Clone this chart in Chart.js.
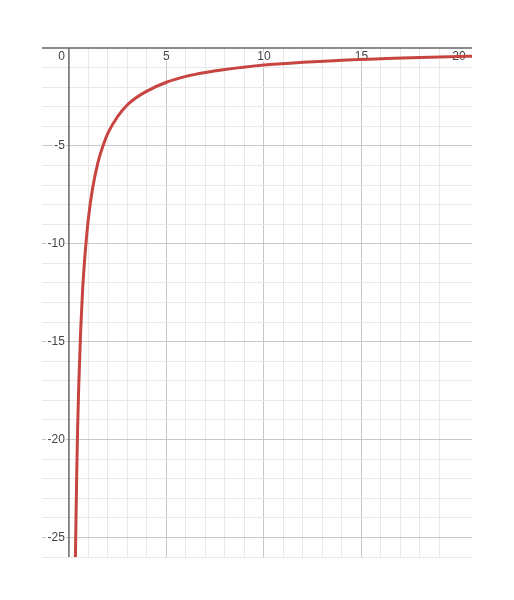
<!DOCTYPE html>
<html>
<head>
<meta charset="utf-8">
<script src="https://cdn.jsdelivr.net/npm/chart.js@4"></script>
<style>
  body { margin: 0; background: #fff; }
  #wrap { width: 514px; height: 600px; }
</style>
</head>
<body>
<div id="wrap"><canvas id="c"></canvas></div>
<script>
// curve points
const xVals = [0.33, 0.35, 0.4, 0.45, 0.5, 0.6, 0.7, 0.8, 0.9, 1, 1.2, 1.5, 1.8, 2, 2.5, 3, 3.5, 4, 5, 6, 7, 8, 10, 12, 14, 16, 18, 20, 20.7];
const yVals = [-26.3, -24.9, -21.8, -19.3, -17.4, -14.5, -12.4, -10.9, -9.7, -8.7, -7.25, -5.8, -4.85, -4.35, -3.5, -2.9, -2.5, -2.2, -1.75, -1.45, -1.25, -1.1, -0.87, -0.73, -0.62, -0.55, -0.48, -0.43, -0.42];
const xLabels = [5, 10, 15, 20];
const yLabels = [-5, -10, -15, -20, -25];

const points = xVals.map((x, i) => ({ x: x, y: yVals[i] }));

function gridColor(ctx) {
  const v = ctx.tick.value;
  if (Math.abs(v) < 1e-9) return 'rgba(0,0,0,0)';
  if (Math.abs(v - Math.round(v)) > 1e-9) return 'rgba(0,0,0,0)';
  if (Math.round(v) % 5 === 0) return '#c8c8c8';
  return '#e8e8e8';
}

// axis lines + numbers, drawn under the curve
const axisLabels = {
  id: 'axisLabels',
  beforeDatasetsDraw(chart) {
    const ctx = chart.ctx, a = chart.chartArea;
    const xs = chart.scales.x, ys = chart.scales.y;
    const x0 = xs.getPixelForValue(0), y0 = ys.getPixelForValue(0);
    ctx.save();
    ctx.strokeStyle = '#666';
    ctx.lineWidth = 1.5;
    ctx.beginPath();
    ctx.moveTo(a.left, y0); ctx.lineTo(a.right, y0);
    ctx.moveTo(x0, a.top); ctx.lineTo(x0, a.bottom);
    ctx.stroke();

    ctx.font = '12px "Liberation Sans", Arial, sans-serif';
    ctx.fillStyle = '#444';
    ctx.strokeStyle = '#fff';
    ctx.lineWidth = 3;
    ctx.textBaseline = 'middle';
    function put(t, x, y) { ctx.strokeText(t, x, y); ctx.fillText(t, x, y); }
    ctx.textAlign = 'center';
    xLabels.forEach(v => put(String(v), xs.getPixelForValue(v), y0 + 9));
    ctx.textAlign = 'right';
    put('0', x0 - 4, y0 + 9);
    yLabels.forEach(v => put(String(v), x0 - 4, ys.getPixelForValue(v)));
    ctx.restore();
  }
};

new Chart(document.getElementById('c'), {
  type: 'line',
  data: {
    datasets: [{
      data: points,
      borderColor: '#c74440',
      borderWidth: 3,
      pointRadius: 0,
      cubicInterpolationMode: 'monotone',
      fill: false
    }]
  },
  options: {
    responsive: true,
    maintainAspectRatio: false,
    animation: false,
    layout: { padding: { left: 42, right: 42, top: 48, bottom: 43 } },
    plugins: { legend: { display: false }, tooltip: { enabled: false } },
    scales: {
      x: {
        type: 'linear',
        min: -1.38,
        max: 20.67,
        border: { display: false },
        ticks: { display: false, stepSize: 1 },
        grid: { color: gridColor, drawTicks: false }
      },
      y: {
        type: 'linear',
        min: -26,
        max: 0,
        border: { display: false },
        ticks: { display: false, stepSize: 1 },
        grid: { color: gridColor, drawTicks: false }
      }
    }
  },
  plugins: [axisLabels]
});
</script>
</body>
</html>
